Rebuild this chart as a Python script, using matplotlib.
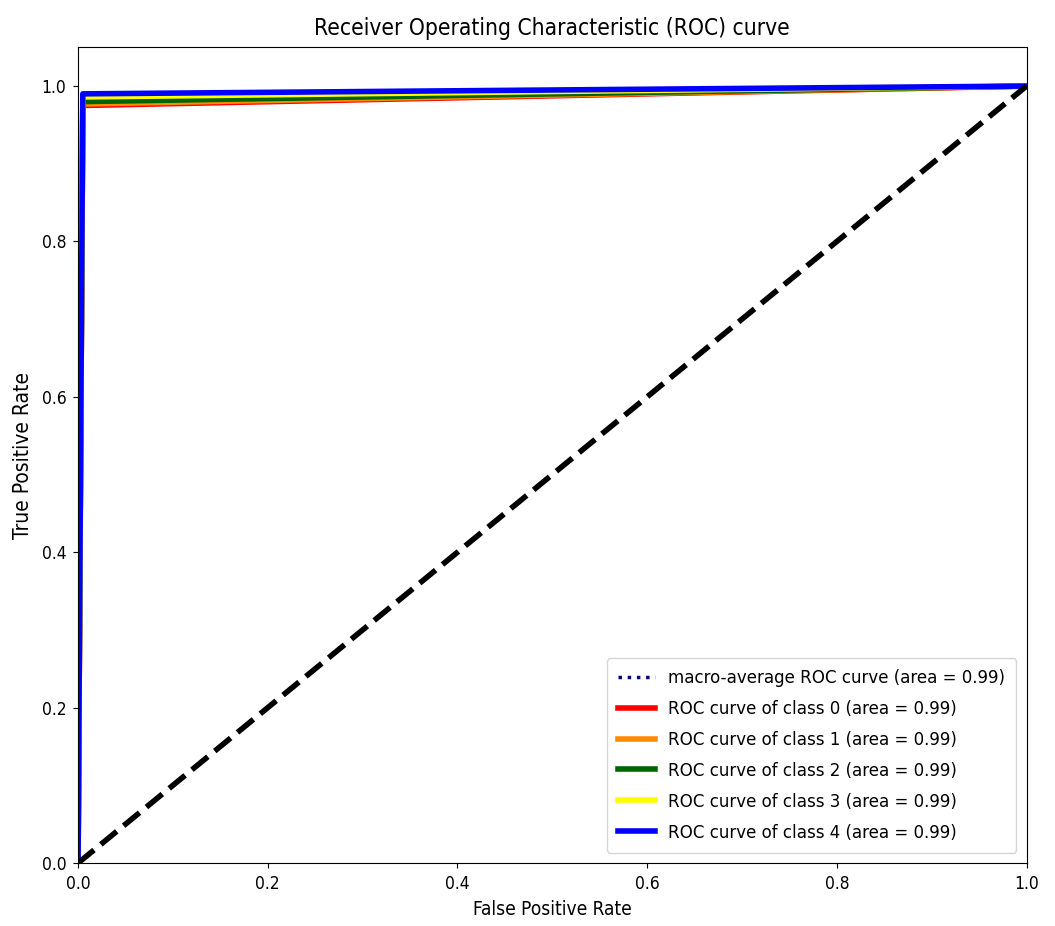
import numpy as np
import matplotlib.pyplot as plt

# ROC points per class
fpr_class = [
    [0.0, 0.005, 1.0],
    [0.0, 0.005, 1.0],
    [0.0, 0.005, 1.0],
    [0.0, 0.005, 1.0],
    [0.0, 0.005, 1.0],
]
tpr_class = [
    [0.0, 0.975, 1.0],
    [0.0, 0.977, 1.0],
    [0.0, 0.980, 1.0],
    [0.0, 0.986, 1.0],
    [0.0, 0.990, 1.0],
]
auc_class = [0.99, 0.99, 0.99, 0.99, 0.99]
fpr_macro = [0.0, 0.005, 1.0]
tpr_macro = [0.0, 0.982, 1.0]
auc_macro = 0.99
colors = ['red', 'darkorange', 'darkgreen', 'yellow', 'blue']

plt.rcParams['font.family'] = ['DejaVu Sans']
plt.rcParams['font.stretch'] = 'condensed'

fig = plt.figure(figsize=(10.55, 9.26), dpi=100)
ax = fig.add_axes([0.074, 0.068, 0.899, 0.881])

ax.plot(fpr_macro, tpr_macro, color='navy', linestyle=':', linewidth=2.5,
        label='macro-average ROC curve (area = {0:0.2f})'.format(auc_macro))
for i, c in enumerate(colors):
    ax.plot(fpr_class[i], tpr_class[i], color=c, lw=4,
            label='ROC curve of class {0} (area = {1:0.2f})'.format(i, auc_class[i]))

ax.plot([0, 1], [0, 1], 'k--', lw=4)
ax.set_xlim([0.0, 1.0])
ax.set_ylim([0.0, 1.05])
ax.set_xlabel('False Positive Rate', fontsize=13.7, labelpad=5)
ax.set_ylabel('True Positive Rate', fontsize=15, labelpad=6)
ax.set_title('Receiver Operating Characteristic (ROC) curve', fontsize=16.3, pad=9)
ax.tick_params(labelsize=12.5, pad=5)
ax.legend(loc='lower right', fontsize=13.3, labelspacing=0.7, borderpad=0.6,
          borderaxespad=0.55, handletextpad=0.7)

fig.savefig('out.png', dpi=100)
